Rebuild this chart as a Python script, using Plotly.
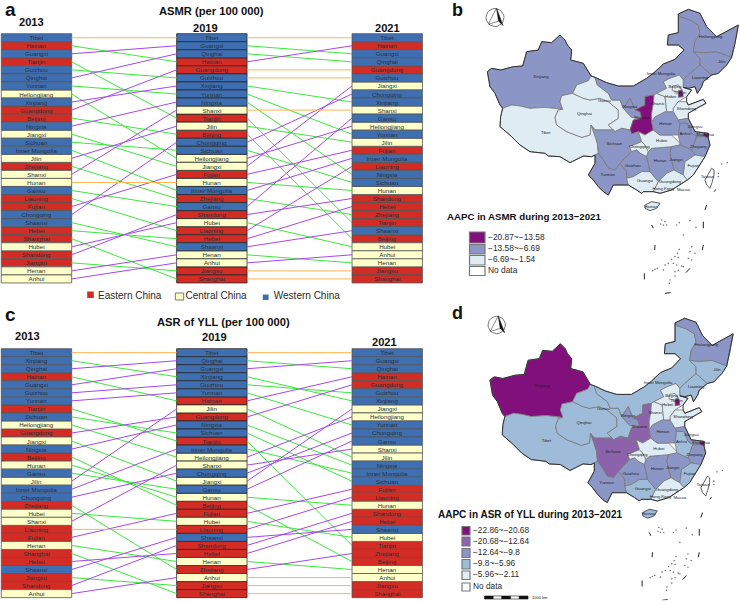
import math
import plotly.graph_objects as go

YEARS = ["2013", "2019", "2021"]
ASMR_2013 = ["Tibet","Hainan","Guangxi","Tianjin","Guizhou","Qinghai","Yunnan","Heilongjiang","Xinjiang","Guangdong","Beijing","Ningxia","Jiangxi","Sichuan","Inner Mongolia","Jilin","Zhejiang","Shanxi","Hunan","Gansu","Liaoning","Fujian","Chongqing","Shaanxi","Hebei","Shanghai","Hubei","Shandong","Jiangsu","Henan","Anhui"]
ASMR_2019 = ["Tibet","Guangxi","Qinghai","Hainan","Guangdong","Guizhou","Xinjiang","Yunnan","Ningxia","Shanxi","Tianjin","Jilin","Beijing","Chongqing","Sichuan","Heilongjiang","Jiangxi","Fujian","Hunan","Inner Mongolia","Zhejiang","Gansu","Shandong","Hubei","Liaoning","Hebei","Shaanxi","Henan","Anhui","Jiangsu","Shanghai"]
ASMR_2021 = ["Tibet","Hainan","Guangxi","Qinghai","Guangdong","Guizhou","Jiangxi","Chongqing","Xinjiang","Shanxi","Gansu","Heilongjiang","Yunnan","Jilin","Fujian","Inner Mongolia","Liaoning","Ningxia","Sichuan","Hunan","Shandong","Hebei","Zhejiang","Tianjin","Shaanxi","Beijing","Hubei","Anhui","Henan","Jiangsu","Shanghai"]
YLL_2013 = ["Tibet","Xinjiang","Qinghai","Hainan","Guangxi","Guizhou","Yunnan","Tianjin","Sichuan","Heilongjiang","Guangdong","Jiangxi","Ningxia","Beijing","Hunan","Gansu","Jilin","Inner Mongolia","Chongqing","Zhejiang","Hubei","Shanxi","Liaoning","Fujian","Henan","Shanghai","Hebei","Shaanxi","Jiangsu","Shandong","Anhui"]
YLL_2019 = ["Tibet","Qinghai","Guangxi","Xinjiang","Guizhou","Yunnan","Hainan","Jilin","Guangdong","Ningxia","Sichuan","Tianjin","Inner Mongolia","Heilongjiang","Shanxi","Chongqing","Jiangxi","Gansu","Hunan","Beijing","Fujian","Hubei","Liaoning","Shaanxi","Shandong","Hebei","Henan","Zhejiang","Anhui","Jiangsu","Shanghai"]
YLL_2021 = ["Tibet","Guangxi","Qinghai","Hainan","Guangdong","Guizhou","Xinjiang","Jiangxi","Heilongjiang","Yunnan","Chongqing","Gansu","Shanxi","Jilin","Ningxia","Inner Mongolia","Sichuan","Fujian","Liaoning","Hunan","Shandong","Hebei","Shaanxi","Hubei","Tianjin","Zhejiang","Beijing","Henan","Anhui","Jiangsu","Shanghai"]

EASTERN = ["Hainan","Tianjin","Guangdong","Beijing","Zhejiang","Liaoning","Fujian","Hebei","Shanghai","Shandong","Jiangsu"]
CENTRAL = ["Heilongjiang","Jiangxi","Jilin","Shanxi","Hunan","Hubei","Henan","Anhui"]
WESTERN = ["Tibet","Guangxi","Guizhou","Qinghai","Yunnan","Xinjiang","Ningxia","Sichuan","Inner Mongolia","Gansu","Chongqing","Shaanxi"]
REGION_COLORS = {"Eastern China": "#D32C25", "Central China": "#FFFFC9", "Western China": "#3F6FB3"}

ASMR_LEGEND = ["\u221220.87~\u221213.58", "\u221213.58~\u22126.69", "\u22126.69~\u22121.54", "No data"]
ASMR_COLORS = ["#810F7C", "#8C96C6", "#E0ECF4", "#FFFFFF"]
ASMR_CLASS = {
    0: ["Shaanxi", "Tianjin", "Shanghai"],
    1: ["Xinjiang","Inner Mongolia","Heilongjiang","Jilin","Liaoning","Ningxia","Sichuan","Yunnan","Guizhou","Hunan","Jiangxi","Henan","Anhui","Jiangsu","Zhejiang"],
    2: ["Tibet","Qinghai","Gansu","Chongqing","Hubei","Guangxi","Guangdong","Hainan","Fujian","Shandong","Hebei","Beijing","Shanxi"],
    3: ["Taiwan"],
}
YLL_LEGEND = ["\u221222.86~\u221220.68", "\u221220.68~\u221212.64", "\u221212.64~\u22129.8", "\u22129.8~\u22125.96", "\u22125.96~\u22122.11", "No data"]
YLL_COLORS = ["#810F7C", "#8C62AA", "#8C96C6", "#9EBCDA", "#E0ECF4", "#FFFFFF"]
YLL_CLASS = {
    0: ["Xinjiang", "Shanghai", "Tianjin"],
    1: ["Sichuan", "Shaanxi"],
    2: ["Heilongjiang","Yunnan","Guizhou","Hunan","Jiangxi","Henan","Jiangsu","Zhejiang","Ningxia"],
    3: ["Tibet","Qinghai","Gansu","Inner Mongolia","Jilin","Liaoning","Guangxi","Fujian","Anhui","Hainan"],
    4: ["Hebei","Beijing","Shanxi","Shandong","Hubei","Chongqing","Guangdong"],
    5: ["Taiwan"],
}

# Province outlines in a plain map coordinate system
OUTLINES = {
"Xinjiang": [(172,215),(185,205),(212,210),(250,200),(278,198),(290,155),(325,150),(335,125),(365,128),(390,105),(405,120),(412,135),(425,150),(422,180),(460,190),(483,228),(475,242),(440,255),(428,280),(395,287),(390,305),(398,328),(375,325),(345,322),(300,325),(270,318),(245,315),(218,325),(210,315),(195,280),(180,260),(175,235)],
"Tibet": [(218,325),(245,315),(270,318),(300,325),(345,322),(375,325),(398,328),(385,330),(375,352),(380,375),(410,395),(455,412),(480,405),(483,375),(495,390),(502,430),(505,460),(495,465),(485,470),(460,468),(420,488),(390,470),(355,468),(345,460),(300,455),(270,435),(245,410),(210,380),(212,350)],
"Qinghai": [(395,287),(428,280),(460,295),(480,300),(510,295),(535,305),(565,330),(565,355),(535,375),(550,390),(525,390),(495,390),(483,375),(480,405),(455,412),(410,395),(380,375),(375,352),(385,330),(398,328),(390,305)],
"Gansu": [(428,280),(440,255),(475,242),(483,228),(495,232),(502,255),(535,280),(545,300),(570,300),(580,325),(605,352),(615,352),(635,355),(610,360),(600,390),(575,385),(555,395),(550,390),(535,375),(565,355),(565,330),(535,305),(510,295),(480,300),(460,295)],
"Inner Mongolia": [(495,232),(530,248),(565,258),(610,258),(650,235),(672,218),(700,192),(735,178),(762,150),(745,135),(712,135),(715,105),(745,98),(745,42),(750,50),(780,60),(805,75),(810,100),(795,125),(790,155),(810,175),(810,195),(775,225),(760,240),(748,225),(720,235),(700,245),(710,265),(680,280),(672,285),(645,290),(645,315),(615,330),(600,295),(580,325),(570,300),(545,300),(535,280),(502,255)],
"Ningxia": [(580,325),(600,295),(615,330),(630,335),(635,355),(615,352),(605,352)],
"Shaanxi": [(645,290),(672,285),(670,310),(665,340),(665,365),(670,390),(645,405),(625,395),(605,402),(600,390),(610,360),(635,355),(630,335),(615,330),(645,315)],
"Sichuan": [(483,375),(495,390),(525,390),(550,390),(555,395),(575,385),(600,390),(605,402),(625,395),(635,425),(598,440),(605,455),(595,465),(570,490),(555,510),(535,505),(520,480),(505,460),(502,430)],
"Yunnan": [(495,465),(505,460),(520,480),(535,505),(555,510),(570,490),(590,515),(590,535),(595,555),(550,555),(535,585),(520,575),(505,560),(490,540),(475,525),(495,490)],
"Chongqing": [(598,440),(635,425),(645,435),(655,455),(650,470),(630,460),(620,450),(605,455)],
"Guizhou": [(570,490),(595,465),(605,455),(620,450),(630,460),(650,470),(655,490),(660,515),(635,515),(610,530),(590,535),(590,515)],
"Guangxi": [(590,535),(610,530),(635,515),(660,515),(685,545),(670,575),(640,575),(635,580),(620,570),(595,555)],
"Hunan": [(655,455),(665,445),(725,440),(720,460),(732,510),(710,520),(685,545),(660,515),(655,490),(650,470)],
"Hubei": [(625,395),(645,405),(670,390),(690,405),(725,405),(750,430),(750,435),(725,440),(665,445),(655,455),(645,435),(635,425)],
"Henan": [(670,390),(665,365),(675,350),(705,335),(730,335),(745,360),(750,370),(745,405),(725,405),(690,405)],
"Shanxi": [(665,365),(665,340),(670,310),(672,285),(680,280),(705,290),(710,335),(705,335),(675,350)],
"Hebei": [(700,245),(720,235),(748,225),(760,240),(760,262),(785,270),(770,290),(745,305),(730,325),(730,335),(710,335),(705,290),(680,280),(710,265)],
"Beijing": [(727,258),(745,255),(755,268),(745,275),(727,272)],
"Tianjin": [(745,272),(757,270),(760,290),(745,292)],
"Shandong": [(730,325),(745,305),(770,305),(775,315),(820,298),(828,310),(800,325),(775,340),(775,355),(745,360),(730,335)],
"Jiangsu": [(745,360),(775,355),(795,395),(820,398),(822,410),(800,410),(785,400),(772,370),(750,370)],
"Anhui": [(750,370),(772,370),(785,400),(800,410),(785,450),(750,435),(750,430),(745,405)],
"Shanghai": [(820,398),(835,400),(835,415),(822,410)],
"Zhejiang": [(800,410),(822,410),(835,415),(840,435),(825,470),(795,465),(785,450)],
"Jiangxi": [(725,440),(750,435),(785,450),(795,465),(765,485),(760,525),(732,510),(720,460)],
"Fujian": [(765,485),(795,465),(825,470),(810,495),(790,525),(772,540),(760,525)],
"Guangdong": [(685,545),(710,520),(732,510),(760,525),(772,540),(750,555),(725,570),(690,580),(670,575)],
"Hainan": [(645,615),(665,605),(690,610),(680,625),(660,632),(645,625)],
"Liaoning": [(760,240),(775,225),(810,195),(845,225),(820,245),(815,260),(802,280),(795,260),(775,265),(760,262)],
"Jilin": [(790,155),(820,158),(860,155),(905,172),(890,195),(865,220),(845,225),(810,195),(810,175)],
"Heilongjiang": [(745,42),(775,28),(810,40),(830,80),(860,110),(925,75),(915,130),(905,172),(860,155),(820,158),(790,155),(795,125),(810,100),(805,75),(780,60),(750,50)],
"Taiwan": [(825,540),(838,515),(845,505),(852,510),(852,525),(846,548),(840,565),(830,555)],
}
COUNTRY = [(172,215),(185,205),(212,210),(250,200),(278,198),(290,155),(325,150),(335,125),(365,128),(390,105),(405,120),(412,135),(425,150),(422,180),(460,190),(483,228),(495,232),(530,248),(565,258),(610,258),(650,235),(672,218),(700,192),(735,178),(762,150),(745,135),(712,135),(715,105),(745,98),(745,42),(775,28),(810,40),(830,80),(860,110),(925,75),(915,130),(905,172),(890,195),(865,220),(845,225),(820,245),(815,260),(802,280),(795,260),(775,265),(760,262),(785,270),(770,290),(770,305),(775,315),(820,298),(828,310),(800,325),(775,340),(775,355),(795,395),(820,398),(835,400),(835,415),(840,435),(825,470),(810,495),(790,525),(772,540),(750,555),(725,570),(690,580),(670,575),(640,575),(635,580),(620,570),(595,555),(550,555),(535,585),(520,575),(505,560),(490,540),(475,525),(495,490),(495,465),(485,470),(460,468),(420,488),(390,470),(355,468),(345,460),(300,455),(270,435),(245,410),(210,380),(212,350),(218,325),(210,315),(195,280),(180,260),(175,235),(172,215)]
MAP_LABELS = {"Xinjiang":(333,232),"Qinghai":(463,343),"Tibet":(347,400),"Gansu":(523,303),"Ningxia":(600,322),"Shaanxi":(635,355),"Shanxi":(683,313),"Inner Mongolia":(693,222),"Heilongjiang":(842,110),"Jilin":(875,185),"Liaoning":(810,234),"Beijing":(735,262),"Tianjin":(750,278),"Hebei":(722,290),"Shandong":(770,326),"Henan":(707,372),"Jiangsu":(795,381),"Anhui":(765,402),"Shanghai":(825,406),"Hubei":(695,423),"Sichuan":(553,433),"Chongqing":(628,441),"Zhejiang":(805,442),"Guizhou":(608,497),"Hunan":(690,482),"Jiangxi":(738,480),"Yunnan":(533,525),"Guangxi":(645,544),"Fujian":(790,498),"Taiwan":(832,530),"Guangdong":(720,546),"Hong Kong":(700,568),"Macao":(760,570),"Hainan":(663,620)}
DASHES = [((852,575),(858,568)),((825,630),(830,615)),((820,665),(820,685)),((820,735),(817,750)),((780,805),(768,818)),((665,675),(670,685)),((675,735),(674,750)),((643,820),(643,838)),((705,880),(722,878))]
ISLES_X = [875,892,865,865,695,705,700,692,710,740,748,780,798,748,742,735,745,785,780,795,775,785,725,715,705,730,740,755,700,735,745,760,720,718,675,668,682,735,760]
ISLES_Y = [492,488,520,530,660,665,675,672,675,675,668,662,682,748,760,770,772,740,755,760,775,780,778,790,795,790,795,798,810,815,812,800,840,850,808,812,805,828,705]

CLR_GREEN, CLR_PURPLE, CLR_ORANGE = "#3BE83B", "#A647EA", "#FFB44F"
fig = go.Figure()
BAR_W = 0.4015

def region_of(p):
    return "Eastern China" if p in EASTERN else "Central China" if p in CENTRAL else "Western China"

def add_rank_panel(columns, xa, ya):
    segs = {CLR_GREEN: ([], []), CLR_PURPLE: ([], []), CLR_ORANGE: ([], [])}
    for c in range(2):
        left, right = columns[c], columns[c + 1]
        for r, prov in enumerate(left):
            r2 = right.index(prov)
            col = CLR_ORANGE if r2 == r else CLR_GREEN if r2 > r else CLR_PURPLE
            segs[col][0].extend([c + BAR_W / 2, c + 1 - BAR_W / 2, None])
            segs[col][1].extend([r + 1, r2 + 1, None])
    for col, (xs, ys) in segs.items():
        fig.add_trace(go.Scatter(x=xs, y=ys, mode="lines", line=dict(color=col, width=1), xaxis=xa, yaxis=ya, showlegend=False, hoverinfo="skip"))
    for reg, color in REGION_COLORS.items():
        xs, bases, labels, edges = [], [], [], []
        for c, col in enumerate(columns):
            for r, prov in enumerate(col):
                if region_of(prov) == reg:
                    xs.append(c); bases.append(r + 0.5); labels.append(prov)
                    edges.append("#2A2A2A" if c == 1 else "#555555")
        fig.add_trace(go.Bar(x=xs, y=[1] * len(xs), base=bases, width=BAR_W, text=labels, name=reg,
                             textposition="inside", insidetextanchor="middle", textangle=0, constraintext="none",
                             textfont=dict(size=6.2, color="#26303A", family="Liberation Sans"),
                             marker=dict(color=color, line=dict(color=edges, width=0.8)),
                             xaxis=xa, yaxis=ya, showlegend=False))

add_rank_panel([ASMR_2013, ASMR_2019, ASMR_2021], "x", "y")
add_rank_panel([YLL_2013, YLL_2019, YLL_2021], "x2", "y2")

def add_map(classes, colors, xa, ya):
    color_of = {p: colors[k] for k, ps in classes.items() for p in ps}
    for prov, pts in OUTLINES.items():
        xs = [p[0] for p in pts] + [pts[0][0]]
        ys = [p[1] for p in pts] + [pts[0][1]]
        dark = prov in ("Taiwan", "Hainan")
        fig.add_trace(go.Scatter(x=xs, y=ys, mode="lines", fill="toself", fillcolor=color_of[prov], name=prov,
                                 line=dict(color="#333333" if dark else "#777777", width=0.8),
                                 xaxis=xa, yaxis=ya, showlegend=False, hoverinfo="name"))
    fig.add_trace(go.Scatter(x=[p[0] for p in COUNTRY], y=[p[1] for p in COUNTRY], mode="lines", line=dict(color="#333333", width=1),
                             xaxis=xa, yaxis=ya, showlegend=False, hoverinfo="skip"))
    dx, dy = [], []
    for a, b in DASHES:
        dx.extend([a[0], b[0], None]); dy.extend([a[1], b[1], None])
    fig.add_trace(go.Scatter(x=dx, y=dy, mode="lines", line=dict(color="#222222", width=1), xaxis=xa, yaxis=ya, showlegend=False, hoverinfo="skip"))
    fig.add_trace(go.Scatter(x=ISLES_X, y=ISLES_Y, mode="markers", marker=dict(size=1.6, color="#777777"), xaxis=xa, yaxis=ya, showlegend=False, hoverinfo="skip"))
    fig.add_trace(go.Scatter(x=[v[0] for v in MAP_LABELS.values()], y=[v[1] for v in MAP_LABELS.values()], text=list(MAP_LABELS), mode="text",
                             textfont=dict(size=4.3, color="#222222", family="Liberation Sans"), xaxis=xa, yaxis=ya, showlegend=False, hoverinfo="skip"))

add_map(ASMR_CLASS, ASMR_COLORS, "x3", "y3")
add_map(YLL_CLASS, YLL_COLORS, "x4", "y4")

def label(tx, ty, text, fs):
    fig.add_trace(go.Scatter(x=[tx], y=[ty], mode="text", text=[text], textposition="middle right",
                             textfont=dict(size=fs, color="#2A2A2A", family="Liberation Sans"),
                             xaxis="x5", yaxis="y5", showlegend=False, hoverinfo="skip"))

def box(x0, x1, y0, y1, color, edge="#777777", ew=1.2):
    fig.add_shape(type="rect", xref="x5", yref="y5", x0=x0, x1=x1, y0=y0, y1=y1, fillcolor=color, line=dict(color=edge, width=ew))

box(87.2, 93.8, 291.5, 298, REGION_COLORS["Eastern China"], REGION_COLORS["Eastern China"], 0)
label(98, 296.3, "Eastern China", 10)
box(175.3, 183.7, 293, 300, REGION_COLORS["Central China"], "#777777", 1)
label(185.5, 296.3, "Central China", 10)
box(262.8, 268.6, 294.5, 300, REGION_COLORS["Western China"], REGION_COLORS["Western China"], 0)
label(273.8, 296.3, "Western China", 10)
for lab, col, y0, y1 in zip(ASMR_LEGEND, ASMR_COLORS, [232, 244.5, 255.5, 266.5], [243, 254, 265, 275.5]):
    box(469.5, 485, y0, y1, col)
    label(488, (y0 + y1) / 2, lab, 8.4)
for lab, col, y0, y1 in zip(YLL_LEGEND, YLL_COLORS, [526.5, 537, 548.5, 559.5, 571, 583], [535, 546, 557.5, 569, 579.5, 591]):
    box(462, 470, y0, y1, col)
    label(473, (y0 + y1) / 2, lab, 8.3)

def north_arrow(cx, cy, r):
    tx = [cx + r * math.cos(math.radians(a)) for a in range(0, 361, 15)]
    ty = [cy + r * math.sin(math.radians(a)) for a in range(0, 361, 15)]
    fig.add_trace(go.Scatter(x=tx, y=ty, mode="lines", line=dict(color="#555555", width=0.8), xaxis="x5", yaxis="y5", showlegend=False, hoverinfo="skip"))
    fig.add_trace(go.Scatter(x=[cx + 1.5, cx + 8, cx + 3.5, cx + 1.5], y=[cy - r * 1.05, cy + r * 0.9, cy + r * 0.4, cy - r * 1.05],
                             mode="lines", fill="toself", fillcolor="#111111", line=dict(color="#111111", width=0.5), xaxis="x5", yaxis="y5", showlegend=False, hoverinfo="skip"))
    fig.add_trace(go.Scatter(x=[cx + 1.5, cx - r * 0.75, cx + 3.5], y=[cy - r * 1.05, cy + r * 0.75, cy + r * 0.4],
                             mode="lines", line=dict(color="#555555", width=0.7), xaxis="x5", yaxis="y5", showlegend=False, hoverinfo="skip"))

north_arrow(495, 17.5, 9)
north_arrow(496.7, 325, 8.7)

for i in range(5):
    fig.add_shape(type="rect", xref="x5", yref="y5", x0=484.5 + i * 8.7, x1=484.5 + (i + 1) * 8.7, y0=596, y1=599,
                  fillcolor="#111111" if i % 2 == 0 else "#FFFFFF", line=dict(color="#111111", width=0.6))

def note(x, y, text, size, bold=True):
    fig.add_annotation(xref="x5", yref="y5", x=x, y=y, text=f"<b>{text}</b>" if bold else text, showarrow=False,
                       font=dict(size=size, color="#111111", family="Liberation Sans"))

note(10, 9.5, "a", 19); note(457, 9.5, "b", 18); note(10, 314, "c", 19); note(457, 313, "d", 18)
note(211.7, 10.7, "ASMR (per 100 000)", 11.2)
note(31.6, 22, "2013", 11.1); note(205.7, 27.7, "2019", 11.1); note(387.7, 27.7, "2021", 11.1)
note(223, 321.7, "ASR of YLL (per 100 000)", 11.2)
note(27, 336.3, "2013", 11.1); note(214.7, 336.7, "2019", 11.1); note(384, 342.3, "2021", 11.1)
note(524, 216.7, "AAPC in ASMR during 2013\u22122021", 9.7)
note(530.3, 514.3, "AAPC in ASR of YLL during 2013\u22122021", 10)
note(540, 597.5, "1000 km", 4, bold=False)

W, H = 740, 601
hidden = dict(visible=False, fixedrange=True)
SPLIT = 300 / H
layout = dict(width=W, height=H, margin=dict(l=0, r=0, t=0, b=0), paper_bgcolor="white", plot_bgcolor="rgba(0,0,0,0)",
              barmode="overlay", showlegend=False,
              font=dict(family="Liberation Sans"),
              xaxis=dict(hidden, domain=[0, 430 / W], range=[-0.208, 2.244]),
              yaxis=dict(hidden, domain=[1 - SPLIT, 1], range=[33.62, -3.69]),
              xaxis2=dict(hidden, domain=[0, 430 / W], range=[-0.208, 2.244]),
              yaxis2=dict(hidden, domain=[0, 1 - SPLIT], range=[31.92, -5.56]),
              xaxis3=dict(hidden, domain=[430 / W, 1], range=[0, 930]),
              yaxis3=dict(hidden, domain=[1 - SPLIT, 1], range=[900, 0]),
              xaxis4=dict(hidden, domain=[434.4 / W, 734.8 / W], range=[0, 930]),
              yaxis4=dict(hidden, domain=[1 - 600.3 / H, 1 - 309 / H], range=[880, 0]),
              xaxis5=dict(hidden, domain=[0, 1], range=[0, W]),
              yaxis5=dict(hidden, domain=[0, 1], range=[H, 0]))
fig.update_layout(**layout)
fig.write_html("out.html", post_script="document.body.style.margin='0';", config={"displayModeBar": False, "responsive": False})
